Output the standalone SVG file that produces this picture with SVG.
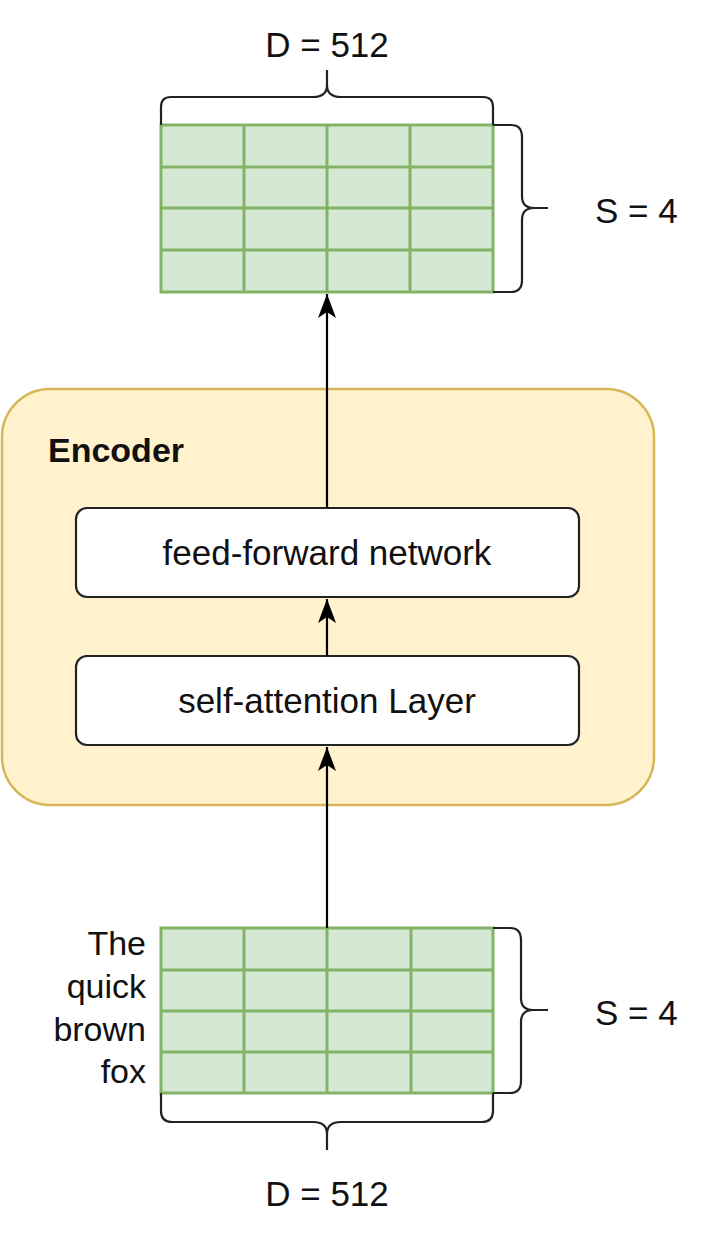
<svg xmlns="http://www.w3.org/2000/svg" width="720" height="1238" viewBox="0 0 720 1238">
<style>
text{font-family:"Liberation Sans",Arial,sans-serif;fill:#111}
.lbl{font-size:35px}
.word{font-size:34px}
.grid rect{fill:#d5e8d4;stroke:#82b366;stroke-width:3}
.grid line{stroke:#82b366;stroke-width:3}
.brace{fill:none;stroke:#222;stroke-width:2.2}
.box{fill:#fff;stroke:#222;stroke-width:2.2}
.conn{stroke:#000;stroke-width:2.2;fill:none}
</style>
<defs>
<marker id="arr" markerUnits="userSpaceOnUse" markerWidth="28" markerHeight="22" viewBox="-26 -11 28 22" refX="0" refY="0" orient="auto">
<path d="M0,0 L-24,-9 L-18,0 L-24,9 Z" fill="#000"/>
</marker>
</defs>
<rect width="720" height="1238" fill="#fff"/>

<g id="encoder">
<rect x="2" y="389" width="652" height="416" rx="48" fill="#fff2cc" stroke="#d6b656" stroke-width="2.5"/>
<text x="48" y="462" font-size="34" font-weight="bold">Encoder</text>
</g>

<g id="ffn">
<rect class="box" x="76" y="508" width="503" height="89" rx="11"/>
<text class="lbl" x="327" y="565" text-anchor="middle">feed-forward network</text>
</g>

<g id="selfattn">
<rect class="box" x="76" y="656" width="503" height="89" rx="11"/>
<text class="lbl" x="327" y="713" text-anchor="middle">self-attention Layer</text>
</g>

<g id="output-grid" class="grid">
<rect x="161" y="125" width="332" height="167"/>
<line x1="161" y1="167" x2="493" y2="167"/>
<line x1="161" y1="208" x2="493" y2="208"/>
<line x1="161" y1="250" x2="493" y2="250"/>
<line x1="244" y1="125" x2="244" y2="292"/>
<line x1="327" y1="125" x2="327" y2="292"/>
<line x1="410" y1="125" x2="410" y2="292"/>
</g>
<g id="output-d-brace">
<path class="brace" d="M161,125 V107 Q161,97 171,97 H313 Q327,97 327,85 V70 M327,85 Q327,97 341,97 H483 Q493,97 493,107 V125"/>
<text class="lbl" x="327" y="57" text-anchor="middle">D = 512</text>
</g>
<g id="output-s-brace">
<path class="brace" d="M493,125 H511 Q522,125 522,137 V196 Q522,208 534,208 H548 M534,208 Q522,208 522,220 V280 Q522,292 511,292 H493"/>
<text class="lbl" x="595" y="223">S = 4</text>
</g>

<g id="input-grid" class="grid">
<rect x="161" y="928" width="332" height="165"/>
<line x1="161" y1="970" x2="493" y2="970"/>
<line x1="161" y1="1011" x2="493" y2="1011"/>
<line x1="161" y1="1052" x2="493" y2="1052"/>
<line x1="244" y1="928" x2="244" y2="1093"/>
<line x1="327" y1="928" x2="327" y2="1093"/>
<line x1="411" y1="928" x2="411" y2="1093"/>
</g>
<g id="input-words">
<text class="word" x="146" y="955" text-anchor="end">The</text>
<text class="word" x="146" y="998" text-anchor="end">quick</text>
<text class="word" x="146" y="1041" text-anchor="end">brown</text>
<text class="word" x="146" y="1083" text-anchor="end">fox</text>
</g>
<g id="input-s-brace">
<path class="brace" d="M493,928 H510 Q521,928 521,940 V998 Q521,1010 533,1010 H548 M533,1010 Q521,1010 521,1022 V1081 Q521,1093 510,1093 H493"/>
<text class="lbl" x="595" y="1025">S = 4</text>
</g>
<g id="input-d-brace">
<path class="brace" d="M161,1093 V1111 Q161,1122 172,1122 H313 Q327,1122 327,1134 V1150 M327,1134 Q327,1122 341,1122 H482 Q493,1122 493,1111 V1093"/>
<text class="lbl" x="327" y="1206" text-anchor="middle">D = 512</text>
</g>

<g id="connectors">
<line class="conn" x1="327" y1="508" x2="327" y2="294" marker-end="url(#arr)"/>
<line class="conn" x1="327" y1="656" x2="327" y2="599" marker-end="url(#arr)"/>
<line class="conn" x1="327" y1="928" x2="327" y2="747" marker-end="url(#arr)"/>
</g>
</svg>
